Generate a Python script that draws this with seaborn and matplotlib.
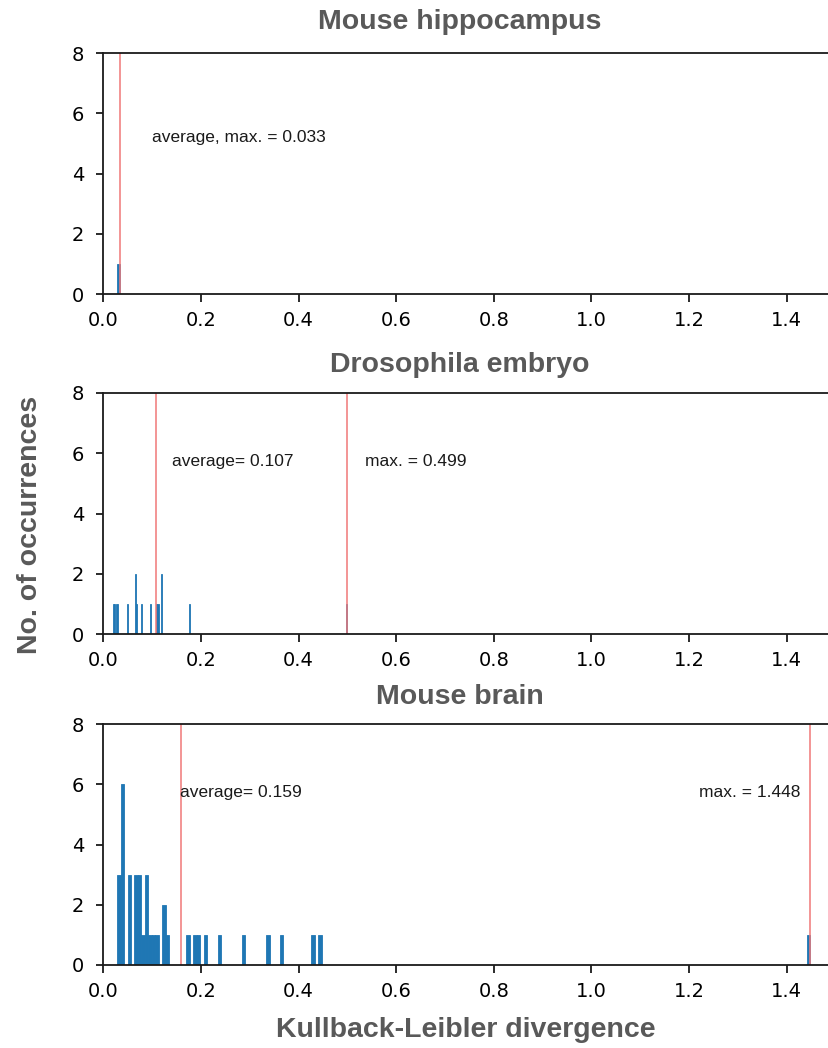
import matplotlib
matplotlib.use("Agg")
import matplotlib.pyplot as plt
import seaborn as sns
import numpy as np

# KL divergence values per dataset
hippocampus_kl = [0.033]
drosophila_kl = [0.0192, 0.0224, 0.0278, 0.0502, 0.0653, 0.0653, 0.0673, 0.0776,
                 0.0967, 0.109, 0.111, 0.118, 0.118, 0.177, 0.499]
brain_kl = [0.028, 0.030, 0.033,
            0.036, 0.037, 0.038, 0.039, 0.040, 0.041,
            0.051, 0.053, 0.055,
            0.065, 0.067, 0.069,
            0.072, 0.074, 0.076,
            0.081,
            0.086, 0.088, 0.090,
            0.095, 0.102, 0.110,
            0.122, 0.125,
            0.131,
            0.172, 0.187, 0.195, 0.209, 0.236, 0.286, 0.337, 0.365, 0.429, 0.443,
            1.448]

titles = ["Mouse hippocampus", "Drosophila embryo", "Mouse brain"]
datasets = [hippocampus_kl, drosophila_kl, brain_kl]
averages = [0.033, 0.107, 0.159]
maxima = [0.033, 0.499, 1.448]
x_ticks = [0.0, 0.2, 0.4, 0.6, 0.8, 1.0, 1.2, 1.4]
y_ticks = [0, 2, 4, 6, 8]

sns.set_style("ticks")
plt.rcParams["font.family"] = ["DejaVu Sans"]

W, H = 829, 1048
fig = plt.figure(figsize=(W / 100, H / 100), dpi=100)

# panel boxes in pixels: (top, bottom)
panels = [(53, 294), (393, 634), (724, 965)]
left_px = 103.5
x_max = 1.487

grey = "#595959"
bar_color = "#1f77b4"
line_color = "#f07878"
text_color = "#1a1a1a"
label_font = ["Liberation Sans", "DejaVu Sans"]

# annotation anchors (x, y) in data units
note_pos = {
    0: [(0.099, 5.18)],
    1: [(0.140, 5.74), (0.536, 5.74)],
    2: [(0.157, 5.71), (1.22, 5.71)],
}

for i, (top, bottom) in enumerate(panels):
    ax = fig.add_axes([left_px / W, 1 - bottom / H, (W - left_px) / W, (bottom - top) / H])
    sns.histplot(x=datasets[i], bins=200, ax=ax, color=bar_color, alpha=1.0,
                 edgecolor=bar_color, linewidth=0.6)
    ax.set_xlim(0, x_max)
    ax.set_ylim(0, 8)
    ax.set_xticks(x_ticks)
    ax.set_xticklabels([f"{t:.1f}" for t in x_ticks])
    ax.set_yticks(y_ticks)
    ax.set_xlabel("")
    ax.set_ylabel("")
    ax.tick_params(labelsize=14, width=1.3, color=text_color, labelcolor="black")
    ax.tick_params(axis="x", length=6, pad=6.5)
    ax.tick_params(axis="y", length=5, pad=9)
    for side in ["left", "bottom", "top"]:
        ax.spines[side].set_linewidth(1.3)
        ax.spines[side].set_color(text_color)
    ax.spines["right"].set_visible(False)

    ax.axvline(averages[i], color=line_color, lw=1.1)
    if averages[i] == maxima[i]:
        x, y = note_pos[i][0]
        ax.text(x, y, f"average, max. = {averages[i]:.3f}", fontsize=12.5,
                family=label_font, color=text_color, va="center")
    else:
        ax.axvline(maxima[i], color=line_color, lw=1.1)
        (xa, ya), (xm, ym) = note_pos[i]
        ax.text(xa, ya, f"average= {averages[i]:.3f}", fontsize=12.5,
                family=label_font, color=text_color, va="center")
        ax.text(xm, ym, f"max. = {maxima[i]:.3f}", fontsize=12.5,
                family=label_font, color=text_color, va="center")

title_y = [22, 365, 697]
for t, y in zip(titles, title_y):
    fig.text(459.5 / W, 1 - y / H, t, ha="center", va="center", fontsize=20.5,
             fontweight="bold", color=grey, family=label_font)

fig.text(30 / W, 1 - 525 / H, "No. of occurrences", rotation=90, ha="center",
         va="center", fontsize=20.5, fontweight="bold", color=grey, family=label_font)
fig.text(466 / W, 1 - 1030 / H, "Kullback-Leibler divergence", ha="center",
         va="center", fontsize=20.5, fontweight="bold", color=grey, family=label_font)

fig.savefig("out.png", dpi=100, facecolor="white")
